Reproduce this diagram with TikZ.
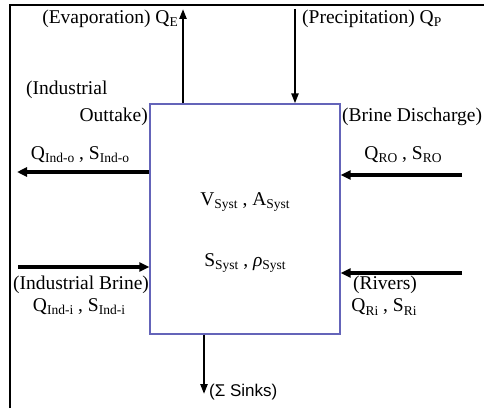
\documentclass[tikz,border=0pt]{standalone}
\usepackage{fontspec}
\setmainfont{Liberation Serif}
\newfontfamily\sinkfont{Liberation Sans}
\usetikzlibrary{arrows.meta}
\newcommand{\sbs}[1]{\raisebox{-0.35ex}{\fontsize{13.5}{14}\selectfont #1}}
\begin{document}
\begin{tikzpicture}[x=1pt,y=1pt,
  lbl/.style={inner sep=0pt,font=\fontsize{19.5}{21}\selectfont},
  flowh/.style={line width=3.5pt,-{Triangle[length=10pt,width=9pt]}},
  flowv/.style={line width=2.2pt,-{Triangle[length=10pt,width=7pt]}}]
\useasboundingbox (0,0) rectangle (484,408);
\definecolor{boxblue}{RGB}{100,100,185}
% frame
\draw[line width=2pt] (10,0) -- (10,403) -- (484,403);
% system box
\node[draw=boxblue,line width=1.2pt,minimum width=190pt,minimum height=230pt,inner sep=0pt] (box) at (245,189) {};
% free ends
\coordinate (eT) at (183,399);
\coordinate (pT) at (295,399);
\coordinate (outL) at (17,236);
\coordinate (brR) at (462,233);
\coordinate (ibL) at (18,141);
\coordinate (rvR) at (462,135);
\coordinate (skB) at (204,14);
% arrows
\draw[flowv] (eT |- box.north) -- (eT);
\draw[flowv] (pT) -- (pT |- box.north);
\draw[flowh] (outL -| box.west) -- (outL);
\draw[flowh] (brR) -- (brR -| box.east);
\draw[flowh] (ibL) -- (ibL -| box.west);
\draw[flowh] (rvR) -- (rvR -| box.east);
\draw[flowv] (skB |- box.south) -- (skB);
% labels
\node[lbl,anchor=east] (evap) at (178,389) {(Evaporation) Q\sbs{E}};
\node[lbl,anchor=west] (prec) at (302,389) {(Precipitation) Q\sbs{P}};
\node[lbl,anchor=west] (ind1) at (26,318) {(Industrial};
\node[lbl,anchor=east] (ind2) at (148,291) {Outtake)};
\node[lbl] (qio) at (80,253) {Q\sbs{Ind-o} , S\sbs{Ind-o}};
\node[lbl,anchor=west] (brine) at (342,291) {(Brine Discharge)};
\node[lbl] (qro) at (403,253) {Q\sbs{RO} , S\sbs{RO}};
\node[lbl] (vs) at (245,206) {V\sbs{Syst} , A\sbs{Syst}};
\node[lbl] (ss) at (245,145) {S\sbs{Syst} , \textit{ρ}\sbs{Syst}};
\node[lbl] (ib) at (81,123) {(Industrial Brine)};
\node[lbl] (qii) at (79,101) {Q\sbs{Ind-i} , S\sbs{Ind-i}};
\node[lbl] (riv) at (385,123) {(Rivers)};
\node[lbl] (qri) at (384,101) {Q\sbs{Ri} , S\sbs{Ri}};
\node[inner sep=0pt,anchor=west,font=\sinkfont\fontsize{17}{19}\selectfont] (sinks) at (209,16) {(Σ Sinks)};
\end{tikzpicture}
\end{document}
